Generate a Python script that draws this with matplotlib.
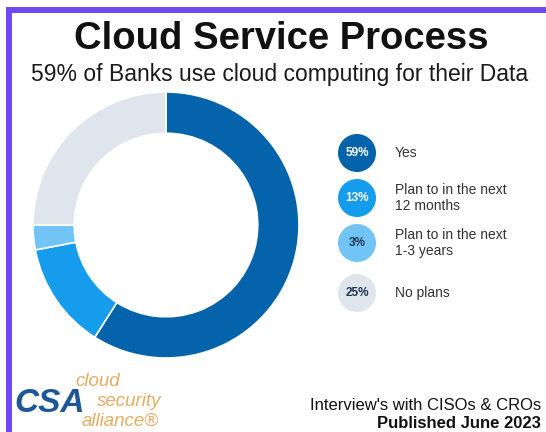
import matplotlib.pyplot as plt
from matplotlib.patches import Circle, Rectangle

plt.rcParams['font.family'] = ['Liberation Sans', 'DejaVu Sans']

# data
labels = ["Yes", "Plan to in the next\n12 months", "Plan to in the next\n1-3 years", "No plans"]
shares = [59, 13, 3, 25]
colors = ["#0463ab", "#169cec", "#72c4f6", "#dfe5ec"]
badge_text = ["white", "white", "#1f3550", "#1f3550"]

fig = plt.figure(figsize=(5.46, 4.32), dpi=100)
fig.patch.set_facecolor("white")

# canvas axes in pixel coords (y down)
bg = fig.add_axes([0, 0, 1, 1])
bg.set_xlim(0, 546)
bg.set_ylim(432, 0)
bg.axis("off")

# purple frame
bg.add_patch(Rectangle((6, 7), 540, 6, color="#7048f2", lw=0))
bg.add_patch(Rectangle((6, 7), 6, 425, color="#7048f2", lw=0))

# titles
bg.text(281, 39, "Cloud Service Process", ha="center", va="center",
        fontsize=27.5, fontweight="bold", color="#111111")
bg.text(280, 75, "59% of Banks use cloud computing for their Data", ha="center",
        va="center", fontsize=16.5, color="#1a1a1a")

# donut
pie_ax = fig.add_axes([30 / 546, 1 - 358 / 432, 272 / 546, 266 / 432])
pie_ax.pie(shares, colors=colors, startangle=90, counterclock=False, radius=1,
           wedgeprops=dict(width=0.31, edgecolor="white", linewidth=1.2))
pie_ax.set_xlim(-1, 1)
pie_ax.set_ylim(-1, 1)
pie_ax.set_aspect("equal")

# legend badges
ys = [153, 198, 243, 293]
for y, s, c, tc, lab in zip(ys, shares, colors, badge_text, labels):
    bg.add_patch(Circle((357, y), 19, color=c, lw=0))
    bg.text(357, y, f"{s}%", ha="center", va="center", fontsize=8.5,
            fontweight="bold", color=tc)
    bg.text(395, y, lab, ha="left", va="center", fontsize=10,
            color="#333333", linespacing=1.25)

# CSA logo
bg.text(14, 403, "CSA", ha="left", va="center", fontsize=24, fontweight="heavy",
        fontstyle="italic", color="#1d5796")
bg.text(75, 382, "cloud", ha="left", va="center", fontsize=13.5,
        fontstyle="italic", color="#e3ad62")
bg.text(97, 402, "security", ha="left", va="center", fontsize=13.5,
        fontstyle="italic", color="#e3ad62")
bg.text(82, 421, "alliance®", ha="left", va="center", fontsize=13.5,
        fontstyle="italic", color="#e3ad62")

# footer
bg.text(541, 406, "Interview's with CISOs & CROs", ha="right", va="center",
        fontsize=12, color="#111111")
bg.text(541, 424, "Published June 2023", ha="right", va="center",
        fontsize=12, fontweight="bold", color="#111111")

plt.savefig("out.png", dpi=100)
